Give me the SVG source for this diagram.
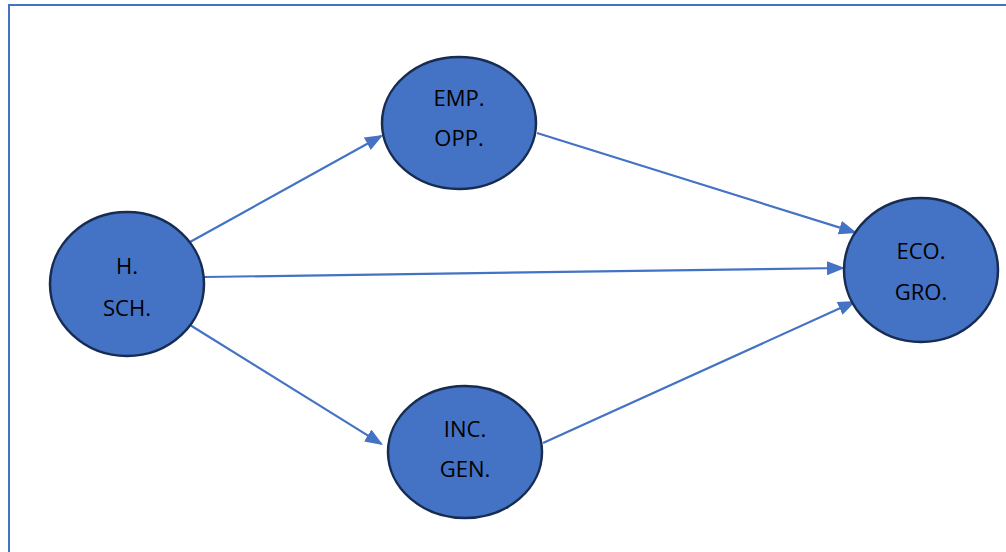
<svg xmlns="http://www.w3.org/2000/svg" width="1006" height="552" viewBox="0 0 1006 552">
<style>
.node{fill:#4472C4;stroke:#172C51;stroke-width:2.5}
.lbl{font-family:"Open Sans","Liberation Sans",sans-serif;font-size:22px;fill:#000;text-anchor:middle}
.edge{stroke:#4472C4;stroke-width:2.2;fill:none;marker-end:url(#ah)}
</style>
<defs>
<marker id="ah" markerUnits="userSpaceOnUse" markerWidth="18" markerHeight="14" refX="16" refY="7" orient="auto">
<path d="M0,0 L18,7 L0,14 z" fill="#4472C4"/>
</marker>
</defs>
<rect x="0" y="0" width="1006" height="552" fill="#fff"/>
<rect x="9" y="5" width="1010" height="560" fill="none" stroke="#4472C4" stroke-width="2"/>
<g id="connectors">
<line class="edge" x1="190" y1="242" x2="381.3" y2="136"/>
<line class="edge" x1="537" y1="133" x2="855.1" y2="232.4"/>
<line class="edge" x1="204" y1="277" x2="843" y2="268"/>
<line class="edge" x1="190" y1="325" x2="381.3" y2="443.9"/>
<line class="edge" x1="543" y1="443" x2="854.2" y2="301.8"/>
</g>
<g id="hsch">
<ellipse class="node" cx="127" cy="284" rx="77" ry="72"/>
<text class="lbl" x="127" y="274">H.</text>
<text class="lbl" x="127" y="316">SCH.</text>
</g>
<g id="empopp">
<ellipse class="node" cx="459" cy="123" rx="77" ry="66"/>
<text class="lbl" x="459" y="106">EMP.</text>
<text class="lbl" x="459" y="146">OPP.</text>
</g>
<g id="incgen">
<ellipse class="node" cx="465" cy="452" rx="77" ry="66"/>
<text class="lbl" x="465" y="437">INC.</text>
<text class="lbl" x="465" y="477">GEN.</text>
</g>
<g id="ecogro">
<ellipse class="node" cx="921" cy="270" rx="77" ry="72"/>
<text class="lbl" x="921" y="259">ECO.</text>
<text class="lbl" x="921" y="300">GRO.</text>
</g>
</svg>
